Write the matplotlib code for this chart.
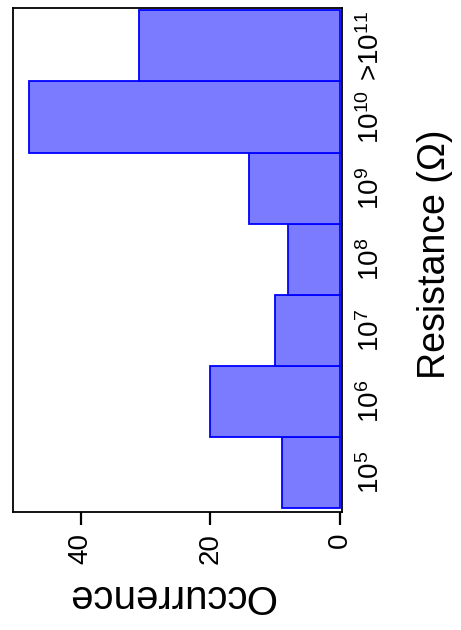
import matplotlib
matplotlib.use("Agg")
import matplotlib.pyplot as plt

plt.rcParams['font.family'] = ['Liberation Sans', 'DejaVu Sans']
plt.rcParams['mathtext.fontset'] = 'custom'
plt.rcParams['mathtext.rm'] = 'Liberation Sans'
plt.rcParams['mathtext.it'] = 'Liberation Sans:italic'
plt.rcParams['mathtext.bf'] = 'Liberation Sans:bold'

# Resistance bins and how many samples fall in each
bins = [r'$\mathregular{10^{5}}$', r'$\mathregular{10^{6}}$', r'$\mathregular{10^{7}}$',
        r'$\mathregular{10^{8}}$', r'$\mathregular{10^{9}}$', r'$\mathregular{10^{10}}$',
        r'>$\mathregular{10^{11}}$']
counts = [9, 20, 10, 8, 14, 48, 31]
count_ticks = [0, 20, 40]

fig = plt.figure(figsize=(4.61, 6.30), dpi=100)
ax = fig.add_axes([0.0289, 0.1873, 0.742 - 0.0289, 0.9873 - 0.1873])

pos = list(range(len(bins)))
ax.barh(pos, counts, height=1.0, left=0, color='#7b7bff', edgecolor='#0000ff',
        linewidth=1.3)

ax.set_xlim(50.4, -0.3)
ax.set_ylim(-0.55, 6.53)

# count axis along the bottom, growing to the left
ax.set_xticks(count_ticks)
ax.set_xticklabels([str(v) for v in count_ticks], rotation=90, fontsize=20,
                   va='top', ha='center')
ax.tick_params(axis='x', length=9.4, width=1.6, pad=5.5, direction='out',
               color='black')

# resistance bins along the right side
ax.yaxis.tick_right()
ax.set_yticks(pos)
ax.set_yticklabels(bins, rotation=90, fontsize=20, va='center', ha='left')
ax.tick_params(axis='y', length=0, pad=11, left=False, right=True)

for s in ax.spines.values():
    s.set_linewidth(1.3)
    s.set_color('black')

ax.set_xlabel('Occurrence', fontsize=29, rotation=180)
ax.xaxis.label.set(va='center', ha='center', rotation_mode='anchor')
ax.xaxis.set_label_coords(0.48, -0.1667)

ax.yaxis.set_label_position('right')
ax.set_ylabel('Resistance (\u03a9)', fontsize=27, rotation=90)
ax.yaxis.label.set(va='center', ha='center', rotation_mode='anchor')
ax.yaxis.set_label_coords(1.283, 0.511)

fig.savefig('out.png', dpi=100)
